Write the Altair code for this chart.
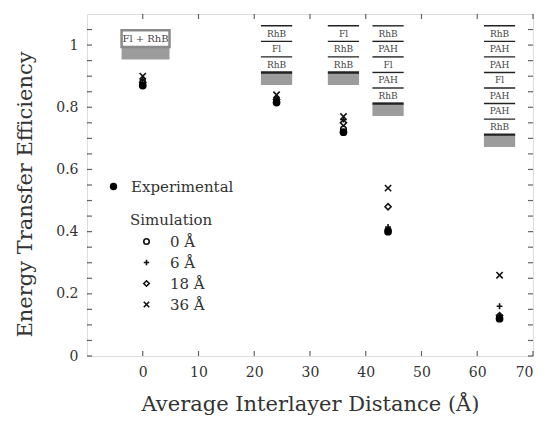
import altair as alt
import pandas as pd

# ---------------- data ----------------
distances = [0, 24, 36, 44, 64]
experimental = [0.87, 0.815, 0.72, 0.40, 0.12]
sim_0 = [0.88, 0.82, 0.73, 0.405, 0.125]
sim_6 = [0.89, 0.83, 0.76, 0.415, 0.16]
sim_18 = [0.88, 0.825, 0.75, 0.48, 0.13]
sim_36 = [0.90, 0.84, 0.77, 0.54, 0.26]
sim_labels = ["0 Å", "6 Å", "18 Å", "36 Å"]

x_tick_values = [0, 10, 20, 30, 40, 50, 60, 70]
y_label_values = [0, 0.2, 0.4, 0.6, 0.8, 1.0]
y_tick_values = [0, 0.05, 0.1, 0.15, 0.2, 0.25, 0.3, 0.35, 0.4, 0.45, 0.5,
                 0.55, 0.6, 0.65, 0.7, 0.75, 0.8, 0.85, 0.9, 0.95, 1.0, 1.05]

# layer-stack sketches above the clusters
stack_centers = [24, 36, 44, 64]
stack_layers = [
    ["RhB", "Fl", "RhB"],
    ["Fl", "RhB", "RhB"],
    ["RhB", "PAH", "Fl", "PAH", "RhB"],
    ["RhB", "PAH", "PAH", "Fl", "PAH", "PAH", "RhB"],
]
stack_top = 1.062
layer_h = 0.05
stack_half = 2.8
substrate_h = 0.04

mixed_label = "Fl + RhB"
mixed_x = [-3.8, 4.8]
mixed_y = [1.048, 0.994]

FONT = "DejaVu Serif"
W, H = 446, 342

xs = alt.Scale(domain=[-10, 70], nice=False, zero=False)
ys = alt.Scale(domain=[0, 1.1], nice=False, zero=False)

# ---------------- tables ----------------
exp_df = pd.DataFrame({"d": distances, "eff": experimental, "series": "Experimental"})
sim_rows = []
for lab, vals in zip(sim_labels, [sim_0, sim_6, sim_18, sim_36]):
    for d, v in zip(distances, vals):
        sim_rows.append({"d": d, "eff": v, "series": lab})
sim_df = pd.DataFrame(sim_rows)

text_rows, line_rows, sub_rows = [], [], []
for cx, layers in zip(stack_centers, stack_layers):
    line_rows.append({"x0": cx - stack_half, "x1": cx + stack_half, "y": stack_top, "w": 1.4})
    for i, lab in enumerate(layers):
        yc = stack_top - (i + 0.5) * layer_h
        text_rows.append({"x": cx, "y": yc, "t": lab})
        yb = stack_top - (i + 1) * layer_h
        line_rows.append({"x0": cx - stack_half, "x1": cx + stack_half, "y": yb,
                          "w": 2.4 if i == len(layers) - 1 else 1.4})
    ybot = stack_top - len(layers) * layer_h
    sub_rows.append({"x0": cx - stack_half, "x1": cx + stack_half, "y0": ybot, "y1": ybot - substrate_h})
sub_rows.append({"x0": mixed_x[0], "x1": mixed_x[1], "y0": mixed_y[1], "y1": mixed_y[1] - substrate_h})
text_df = pd.DataFrame(text_rows)
line_df = pd.DataFrame(line_rows)
sub_df = pd.DataFrame(sub_rows)
mixed_df = pd.DataFrame({"x0": [mixed_x[0]], "x1": [mixed_x[1]], "y0": [mixed_y[0]], "y1": [mixed_y[1]],
                         "xc": [(mixed_x[0] + mixed_x[1]) / 2], "yc": [(mixed_y[0] + mixed_y[1]) / 2],
                         "t": [mixed_label]})

# ---------------- layers ----------------
x_axis = alt.Axis(values=x_tick_values, ticks=False, domain=False, grid=False,
                  labelFont=FONT, labelFontSize=14, labelColor="#333", labelPadding=9,
                  title="Average Interlayer Distance (Å)", titleFont=FONT, titleFontSize=21,
                  titleFontWeight="normal", titleColor="#333", titlePadding=14)
y_axis = alt.Axis(values=y_label_values, ticks=False, domain=False, grid=False, format="~g",
                  labelFont=FONT, labelFontSize=14, labelColor="#333", labelPadding=9,
                  title="Energy Transfer Efficiency", titleFont=FONT, titleFontSize=21,
                  titleFontWeight="normal", titleColor="#333", titlePadding=20, titleY=180)

substrate = alt.Chart(sub_df).mark_rect(color="#9c9c9c").encode(
    x=alt.X("x0:Q", scale=xs, axis=x_axis), x2="x1", y=alt.Y("y0:Q", scale=ys, axis=y_axis), y2="y1")

mixed_box = alt.Chart(mixed_df).mark_rect(fill="white", stroke="#8a8a8a", strokeWidth=2.5).encode(
    x=alt.X("x0:Q", scale=xs), x2="x1", y=alt.Y("y0:Q", scale=ys), y2="y1")
mixed_text = alt.Chart(mixed_df).mark_text(font=FONT, fontSize=10, color="#444").encode(
    x=alt.X("xc:Q", scale=xs), y=alt.Y("yc:Q", scale=ys), text="t:N")

lines = alt.Chart(line_df).mark_rule(color="#222").encode(
    x=alt.X("x0:Q", scale=xs), x2="x1", y=alt.Y("y:Q", scale=ys),
    strokeWidth=alt.StrokeWidth("w:Q", scale=None, legend=None))
labels = alt.Chart(text_df).mark_text(font=FONT, fontSize=9, color="#444").encode(
    x=alt.X("x:Q", scale=xs), y=alt.Y("y:Q", scale=ys), text="t:N")

x_path = "M-1,-1L1,1M-1,1L1,-1"
plus_path = "M-1,0L1,0M0,-1L0,1"
sims = alt.Chart(sim_df).mark_point(filled=False, strokeWidth=1.6, color="#111", opacity=1).encode(
    x=alt.X("d:Q", scale=xs), y=alt.Y("eff:Q", scale=ys),
    shape=alt.Shape("series:N", scale=alt.Scale(domain=sim_labels,
                                                range=["circle", plus_path, "diamond", x_path]),
                    legend=alt.Legend(orient="none", legendX=43, legendY=199, title="Simulation",
                                      titleFont=FONT, titleFontSize=15, titleFontWeight="normal",
                                      titleColor="#333", titlePadding=6, labelFont=FONT,
                                      labelFontSize=15, labelColor="#333", labelOffset=16,
                                      symbolOffset=9, symbolSize=30, symbolStrokeColor="#111",
                                      symbolStrokeWidth=1.6, rowPadding=5, padding=0)),
    size=alt.Size("series:N", scale=alt.Scale(domain=sim_labels, range=[30, 40, 32, 45]), legend=None),
)

exp = alt.Chart(exp_df).mark_point(filled=True, shape="circle", size=60, opacity=1).encode(
    x=alt.X("d:Q", scale=xs), y=alt.Y("eff:Q", scale=ys),
    color=alt.Color("series:N", scale=alt.Scale(domain=["Experimental"], range=["black"]),
                    legend=alt.Legend(orient="none", legendX=19, legendY=165, title=None,
                                      labelFont=FONT, labelFontSize=15, labelColor="#333",
                                      labelOffset=10, symbolSize=55, padding=0)),
)

# inward ticks on all four sides
ytick_df = pd.DataFrame({"v": y_tick_values})
xtick_df = pd.DataFrame({"v": x_tick_values})
tick_style = dict(color="#222", thickness=1.2, size=5)
left_ticks = alt.Chart(ytick_df).mark_tick(orient="horizontal", **tick_style).encode(
    y=alt.Y("v:Q", scale=ys), x=alt.value(2.5))
right_ticks = alt.Chart(ytick_df).mark_tick(orient="horizontal", **tick_style).encode(
    y=alt.Y("v:Q", scale=ys), x=alt.value(W - 2.5))
bottom_ticks = alt.Chart(xtick_df).mark_tick(orient="vertical", **tick_style).encode(
    x=alt.X("v:Q", scale=xs), y=alt.value(H - 2.5))
top_ticks = alt.Chart(xtick_df).mark_tick(orient="vertical", **tick_style).encode(
    x=alt.X("v:Q", scale=xs), y=alt.value(2.5))

chart = alt.layer(
    substrate, mixed_box, mixed_text, lines, labels, sims, exp,
    left_ticks, right_ticks, bottom_ticks, top_ticks,
).resolve_legend(color="independent", shape="independent").properties(
    width=W, height=H,
    autosize=alt.AutoSizeParams(type="none"),
    padding={"left": 79, "top": 6, "right": 5, "bottom": 65},
).configure_view(stroke="#222", strokeWidth=1.5).configure(background="white")

chart.save("out.html", embed_options={"renderer": "svg", "actions": False})
